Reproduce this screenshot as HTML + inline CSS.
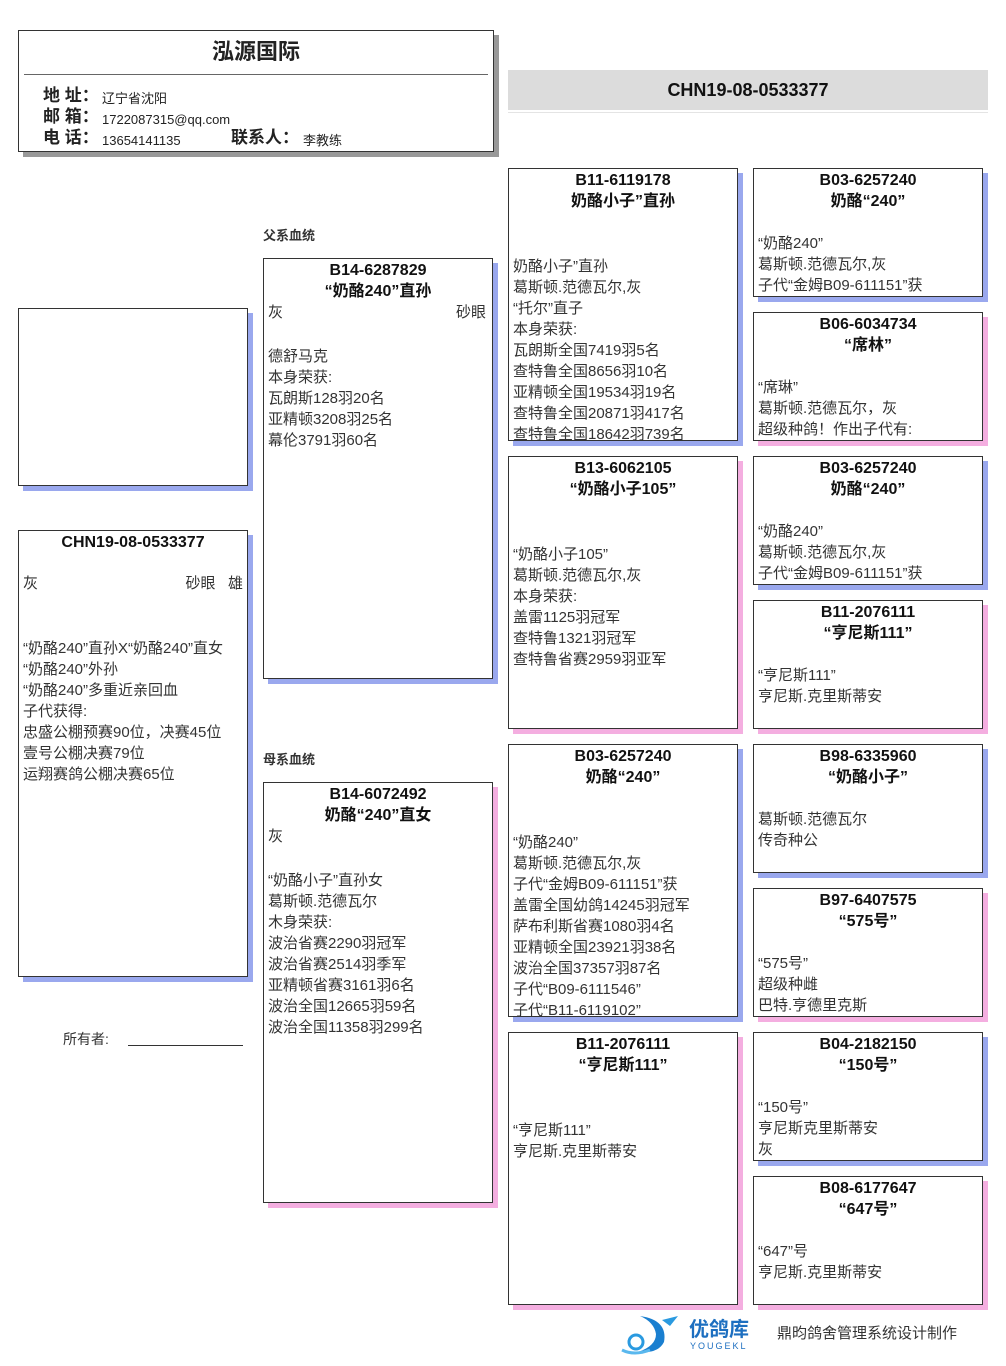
<!DOCTYPE html>
<html><head><meta charset="utf-8"><style>
body{margin:0;background:#fff;}
#pg{position:relative;width:1006px;height:1366px;overflow:hidden;font-family:"Liberation Sans","Noto Sans CJK SC",sans-serif;color:#222;}
.b{position:absolute;background:#fff;border:1px solid #333;box-sizing:border-box;overflow:hidden;font-size:15px;line-height:21px;}
.bl{box-shadow:5px 5px 0 #9aa8ee;}
.pk{box-shadow:5px 5px 0 #f4aee0;}
.t{position:absolute;left:0;right:0;top:1px;text-align:center;font-weight:bold;font-size:16px;line-height:21px;color:#111;}
.y{position:absolute;left:4px;right:4px;color:#333;white-space:nowrap;}
.a{position:absolute;font-size:13px;font-weight:bold;color:#333;}
.h{position:absolute;font-size:13px;white-space:nowrap;}
.h b{font-size:17px;}
</style></head><body><div id="pg">

<div class="b" style="left:18px;top:30px;width:476px;height:122px;box-shadow:5px 5px 0 #999;">
<div style="position:absolute;left:0;right:0;top:6px;text-align:center;font-weight:bold;font-size:22px;line-height:30px;">泓源国际</div>
<div style="position:absolute;left:5px;right:5px;top:43px;border-top:1px solid #666;"></div>
<div class="h" style="left:24px;top:54px;"><b>地 址：</b></div><div class="h" style="left:83px;top:57px;">辽宁省沈阳</div>
<div class="h" style="left:24px;top:75px;"><b>邮 箱：</b></div><div class="h" style="left:83px;top:78px;">1722087315@qq.com</div>
<div class="h" style="left:24px;top:96px;"><b>电 话：</b></div><div class="h" style="left:83px;top:99px;">13654141135</div>
<div class="h" style="left:212px;top:96px;"><b>联系人：</b></div><div class="h" style="left:284px;top:99px;">李教练</div>
</div>

<div style="position:absolute;left:508px;top:70px;width:480px;height:40px;background:#dcdcdc;text-align:center;font-weight:bold;font-size:18px;line-height:40px;color:#111;">CHN19-08-0533377</div>
<div style="position:absolute;left:508px;top:112px;width:480px;border-top:1px solid #e4e4e4;"></div>

<div class="b bl" style="left:18px;top:308px;width:230px;height:178px;"></div>

<div class="b bl" style="left:18px;top:530px;width:230px;height:447px;">
<div class="t">CHN19-08-0533377</div>
<div class="y" style="top:42px;">灰<span style="position:absolute;right:0">砂眼&nbsp;&nbsp;&nbsp;雄</span></div>
<div class="y" style="top:107px;line-height:21px;">“奶酪240”直孙X“奶酪240”直女<br>“奶酪240”外孙<br>“奶酪240”多重近亲回血<br>子代获得:<br>忠盛公棚预赛90位，决赛45位<br>壹号公棚决赛79位<br>运翔赛鸽公棚决赛65位</div>
</div>

<div class="a" style="left:263px;top:225px;">父系血统</div>
<div class="a" style="left:263px;top:749px;">母系血统</div>
<div style="position:absolute;left:63px;top:1029px;font-size:14px;color:#333;">所有者:</div>
<div style="position:absolute;left:128px;top:1045px;width:115px;border-top:1px solid #333;"></div>

<div class="b bl" style="left:263px;top:258px;width:230px;height:421px;">
<div class="t">B14-6287829<br>“奶酪240”直孙</div>
<div class="y" style="top:43px;">灰<span style="position:absolute;right:2px">砂眼</span></div>
<div class="y" style="top:87px;">德舒马克<br>本身荣获:<br>瓦朗斯128羽20名<br>亚精顿3208羽25名<br>幕伦3791羽60名</div>
</div>

<div class="b pk" style="left:263px;top:782px;width:230px;height:421px;">
<div class="t">B14-6072492<br>奶酪“240”直女</div>
<div class="y" style="top:43px;">灰</div>
<div class="y" style="top:87px;">“奶酪小子”直孙女<br>葛斯顿.范德瓦尔<br>木身荣获:<br>波治省赛2290羽冠军<br>波治省赛2514羽季军<br>亚精顿省赛3161羽6名<br>波治全国12665羽59名<br>波治全国11358羽299名</div>
</div>

<div class="b bl" style="left:508px;top:168px;width:230px;height:273px;">
<div class="t">B11-6119178<br>奶酪小子”直孙</div>
<div class="y" style="top:87px;">奶酪小子”直孙<br>葛斯顿.范德瓦尔,灰<br>“托尔”直子<br>本身荣获:<br>瓦朗斯全国7419羽5名<br>查特鲁全国8656羽10名<br>亚精顿全国19534羽19名<br>查特鲁全国20871羽417名<br>查特鲁全国18642羽739名</div>
</div>
<div class="b pk" style="left:508px;top:456px;width:230px;height:273px;">
<div class="t">B13-6062105<br>“奶酪小子105”</div>
<div class="y" style="top:87px;">“奶酪小子105”<br>葛斯顿.范德瓦尔,灰<br>本身荣获:<br>盖雷1125羽冠军<br>查特鲁1321羽冠军<br>查特鲁省赛2959羽亚军</div>
</div>
<div class="b bl" style="left:508px;top:744px;width:230px;height:273px;">
<div class="t">B03-6257240<br>奶酪“240”</div>
<div class="y" style="top:87px;">“奶酪240”<br>葛斯顿.范德瓦尔,灰<br>子代“金姆B09-611151”获<br>盖雷全国幼鸽14245羽冠军<br>萨布利斯省赛1080羽4名<br>亚精顿全国23921羽38名<br>波治全国37357羽87名<br>子代“B09-6111546”<br>子代“B11-6119102”</div>
</div>
<div class="b pk" style="left:508px;top:1032px;width:230px;height:273px;">
<div class="t">B11-2076111<br>“亨尼斯111”</div>
<div class="y" style="top:87px;">“亨尼斯111”<br>亨尼斯.克里斯蒂安</div>
</div>

<div class="b bl" style="left:753px;top:168px;width:230px;height:129px;">
<div class="t">B03-6257240<br>奶酪“240”</div>
<div class="y" style="top:64px;">“奶酪240”<br>葛斯顿.范德瓦尔,灰<br>子代“金姆B09-611151”获</div></div>
<div class="b pk" style="left:753px;top:312px;width:230px;height:129px;">
<div class="t">B06-6034734<br>“席林”</div>
<div class="y" style="top:64px;">“席琳”<br>葛斯顿.范德瓦尔，灰<br>超级种鸽！作出子代有:</div></div>
<div class="b bl" style="left:753px;top:456px;width:230px;height:129px;">
<div class="t">B03-6257240<br>奶酪“240”</div>
<div class="y" style="top:64px;">“奶酪240”<br>葛斯顿.范德瓦尔,灰<br>子代“金姆B09-611151”获</div></div>
<div class="b pk" style="left:753px;top:600px;width:230px;height:129px;">
<div class="t">B11-2076111<br>“亨尼斯111”</div>
<div class="y" style="top:64px;">“亨尼斯111”<br>亨尼斯.克里斯蒂安</div></div>
<div class="b bl" style="left:753px;top:744px;width:230px;height:129px;">
<div class="t">B98-6335960<br>“奶酪小子”</div>
<div class="y" style="top:64px;">葛斯顿.范德瓦尔<br>传奇种公</div></div>
<div class="b pk" style="left:753px;top:888px;width:230px;height:129px;">
<div class="t">B97-6407575<br>“575号”</div>
<div class="y" style="top:64px;">“575号”<br>超级种雌<br>巴特.亨德里克斯</div></div>
<div class="b bl" style="left:753px;top:1032px;width:230px;height:129px;">
<div class="t">B04-2182150<br>“150号”</div>
<div class="y" style="top:64px;">“150号”<br>亨尼斯克里斯蒂安<br>灰</div></div>
<div class="b pk" style="left:753px;top:1176px;width:230px;height:129px;">
<div class="t">B08-6177647<br>“647号”</div>
<div class="y" style="top:64px;">“647”号<br>亨尼斯.克里斯蒂安</div></div>

<svg style="position:absolute;left:620px;top:1312px" width="66" height="44">
<path d="M20 4 Q48 8 44 30 Q38 42 18 40 Q36 34 36 22 Q34 10 20 4Z" fill="#1a7fd0"/>
<path d="M42 8 L58 4 L50 14Z" fill="#2a9ae0"/>
<circle cx="16" cy="30" r="7" fill="none" stroke="#2a9ae0" stroke-width="3"/>
<path d="M2 38 Q14 44 30 38" stroke="#5ab8ee" stroke-width="3" fill="none"/>
</svg>
<div style="position:absolute;left:689px;top:1318px;font-size:20px;font-weight:bold;color:#1d6fc0;line-height:24px;">优鸽库</div>
<div style="position:absolute;left:690px;top:1341px;font-size:9px;color:#1d6fc0;letter-spacing:2px;">YOUGEKL</div>
<div style="position:absolute;left:777px;top:1322px;font-size:15px;color:#333;">鼎昀鸽舍管理系统设计制作</div>

</div></body></html>
